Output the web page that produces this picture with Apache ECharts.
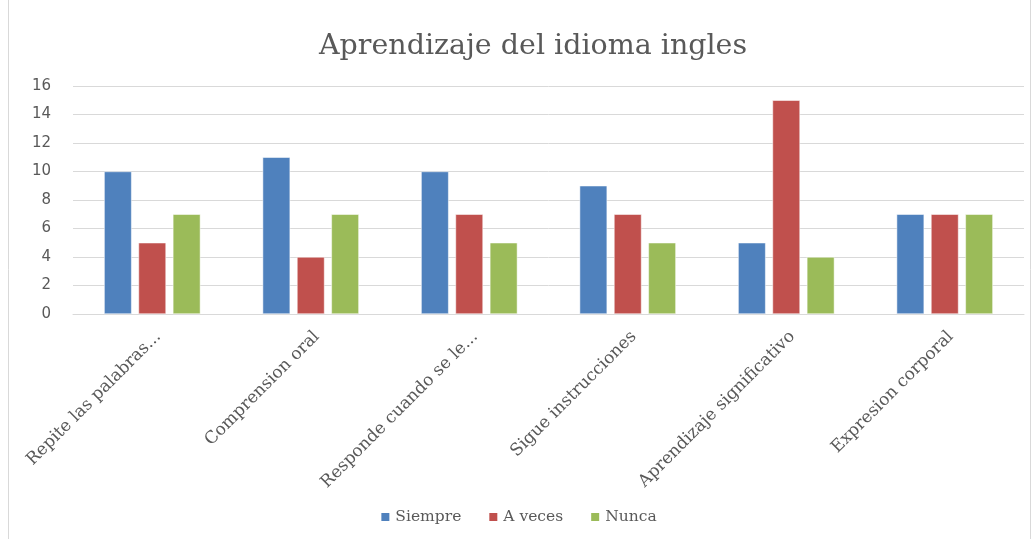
<!DOCTYPE html>
<html>
<head>
<meta charset="utf-8">
<script src="https://cdn.jsdelivr.net/npm/echarts@6/dist/echarts.min.js"></script>
<style>
  html, body { margin: 0; padding: 0; background: #fff; }
  #chart { width: 1036px; height: 539px; }
</style>
</head>
<body>
<div id="chart"></div>
<script>
// categories and series values
var categories = ["Repite las palabras...", "Comprension oral", "Responde cuando se le...", "Sigue instrucciones", "Aprendizaje significativo", "Expresion corporal"];
var siempre = [10, 11, 10, 9, 5, 7];
var aVeces = [5, 4, 7, 7, 15, 7];
var nunca = [7, 7, 5, 5, 4, 7];
var yTicks = [0, 2, 4, 6, 8, 10, 12, 14, 16];

var chart = echarts.init(document.getElementById("chart"), null, { renderer: "canvas" });

function barSeries(name, data, color) {
  return {
    name: name,
    type: "bar",
    data: data,
    barWidth: 27.5,
    barGap: "25%",
    itemStyle: { color: color, borderColor: "#fff", borderWidth: 0.5 }
  };
}

var option = {
  backgroundColor: "#ffffff",
  animation: false,
  title: {
    text: "Aprendizaje del idioma ingles",
    left: 314,
    top: 27,
    textStyle: {
      fontFamily: "DejaVu Serif",
      fontSize: 28.5,
      fontWeight: "normal",
      color: "#595959"
    }
  },
  graphic: [{
    type: "rect",
    shape: { x: 8.5, y: -2, width: 1022, height: 545 },
    style: { fill: "none", stroke: "#d9d9d9", lineWidth: 1 },
    silent: true
  }],
  legend: {
    bottom: 9,
    left: "center",
    itemWidth: 10,
    itemHeight: 10,
    itemGap: 26,
    icon: "rect",
    textStyle: { fontFamily: "DejaVu Serif", fontSize: 15.5, color: "#595959" },
    data: ["Siempre", "A veces", "Nunca"]
  },
  grid: { left: 73, right: 12, top: 86, height: 228, containLabel: false },
  xAxis: {
    type: "category",
    data: categories,
    axisLine: { lineStyle: { color: "#d9d9d9" } },
    axisTick: { show: false },
    axisLabel: {
      rotate: 45,
      interval: 0,
      margin: 14,
      align: "right",
      verticalAlign: "top",
      fontFamily: "DejaVu Serif",
      fontSize: 17,
      color: "#595959"
    }
  },
  yAxis: {
    type: "value",
    min: 0,
    max: 16,
    interval: 2,
    axisLine: { show: false },
    axisTick: { show: false },
    splitLine: { lineStyle: { color: "#d9d9d9" } },
    axisLabel: {
      margin: 22,
      fontFamily: "DejaVu Sans",
      fontSize: 15,
      color: "#595959",
      formatter: function (v) { return yTicks.indexOf(v) >= 0 ? String(v) : ""; }
    }
  },
  series: [
    barSeries("Siempre", siempre, "#4f81bd"),
    barSeries("A veces", aVeces, "#c0504d"),
    barSeries("Nunca", nunca, "#9bbb59")
  ]
};
chart.setOption(option);
</script>
</body>
</html>
